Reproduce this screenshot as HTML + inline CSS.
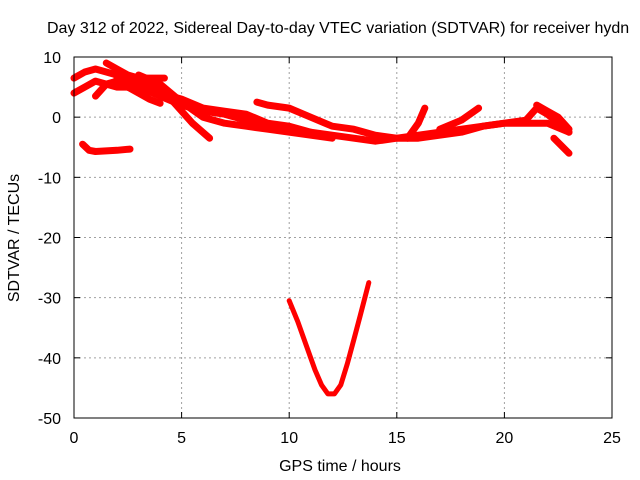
<!DOCTYPE html>
<html><head><meta charset="utf-8"><style>
html,body{margin:0;padding:0;background:#fff}
svg{display:block;font-family:"Liberation Sans",sans-serif}
</style></head><body>
<svg id="chart" width="640" height="480">
<rect width="640" height="480" fill="#fff"/>
<text x="47" y="33" font-size="16">Day 312 of 2022, Sidereal Day-to-day VTEC variation (SDTVAR) for receiver hydn</text>
<g id="grid"></g>
<g id="series"></g>
<rect x="74" y="57" width="538" height="361" fill="none" stroke="#000" stroke-width="1"/>
<g id="ticks"></g>
<text x="340" y="471" font-size="16" text-anchor="middle">GPS time / hours</text>
<text transform="translate(19,238) rotate(-90)" font-size="16" text-anchor="middle">SDTVAR / TECUs</text>
</svg>
<script>
const xTicks=[0,5,10,15,20,25];
const yTicks=[10,0,-10,-20,-30,-40,-50];
const s1h=[0,0.5,1,1.5,2.5,3.5,4.5,5.5,6.3];
const s1v=[6.5,7.5,8,7.5,6.5,5.5,3,-1,-3.5];
const s2h=[0,0.5,1,1.5,2,3,4,5,6,7,8,9,10,11,12,13,14,15,16,17,18,19,20,21,21.5,22,22.5,23];
const s2v=[4,5,6,5.5,5,5,3.5,2,1,0.5,-0.5,-1.5,-2,-2.5,-3,-3.5,-4,-3.5,-3,-2.5,-2,-1.5,-1,-0.5,1.5,0.5,-1,-2.5];
const s3h=[1.5,2,2.5,3,4.2];
const s3v=[9,8,7,6.5,6.5];
const s4h=[2,3,4,5,6,7,8,9,10,11];
const s4v=[6.5,5,4,3,1.5,1,0.5,-1,-1.5,-2.5];
const s5h=[1,1.5,2,3,3.5,4];
const s5v=[3.5,5.5,6,4,3,2.3];
const s6h=[3,4,5,6,7,8,9,10,11,12];
const s6v=[7,5.5,2.5,0,-1,-1.5,-2,-2.5,-3,-3.5];
const s7h=[8.5,9,10,11,12,13,14,15,16,17,18,19,20,21,22,23];
const s7v=[2.5,2,1.5,0,-1.5,-2,-3,-3.5,-3.5,-3,-2.5,-1.5,-1,-1,-1,-2.5];
const s8h=[15.5,16,16.3];
const s8v=[-3.5,-1,1.5];
const s9h=[17,18,18.8];
const s9v=[-2,-0.5,1.5];
const s10h=[21.5,22,22.5,23];
const s10v=[2,1,0,-2];
const s11h=[22.3,23];
const s11v=[-3.5,-6];
const s12h=[0.4,0.7,1,2,2.6];
const s12v=[-4.5,-5.5,-5.7,-5.5,-5.3];
const s13h=[10,10.4,10.8,11.2,11.5,11.8,12.1,12.4,12.7,13,13.3,13.7];
const s13v=[-30.5,-34,-38,-42,-44.5,-46,-46,-44.5,-41,-37,-33,-27.5];
const allH=[s1h,s2h,s3h,s4h,s5h,s6h,s7h,s8h,s9h,s10h,s11h,s12h,s13h];
const allV=[s1v,s2v,s3v,s4v,s5v,s6v,s7v,s8v,s9v,s10v,s11v,s12v,s13v];
const X=h=>74+h*(538/25);
const Y=v=>57+(10-v)*(361/60);
const NS="http://www.w3.org/2000/svg";
const grid=document.getElementById('grid'),ticks=document.getElementById('ticks'),ser=document.getElementById('series');
function mk(tag,attrs,parent){const e=document.createElementNS(NS,tag);for(const k in attrs)e.setAttribute(k,attrs[k]);parent.appendChild(e);return e;}
xTicks.forEach(t=>{
  const x=X(t);
  if(t>0&&t<25){const g=mk('line',{x1:x,x2:x,y1:57,y2:418,stroke:'#a0a0a0','stroke-dasharray':'2,3'},grid);
  
  }
  mk('line',{x1:x,x2:x,y1:418,y2:412,stroke:'#000'},ticks);
  mk('line',{x1:x,x2:x,y1:57,y2:63,stroke:'#000'},ticks);
  const tx=mk('text',{x:x,y:443,'font-size':16,'text-anchor':'middle'},ticks);
  tx.textContent=t;
  
  
});
yTicks.forEach(t=>{
  const y=Y(t);
  if(t<10&&t>-50){const g=mk('line',{x1:74,x2:612,y1:y,y2:y,stroke:'#a0a0a0','stroke-dasharray':'2,3'},grid);
  
  }
  mk('line',{x1:74,x2:80,y1:y,y2:y,stroke:'#000'},ticks);
  mk('line',{x1:612,x2:606,y1:y,y2:y,stroke:'#000'},ticks);
  const tx=mk('text',{x:61,y:y+6,'font-size':16,'text-anchor':'end'},ticks);
  tx.textContent=t;
  
  
});
allH.forEach((hs,i)=>{
  const pts=hs.map((h,j)=>X(h).toFixed(1)+','+Y(allV[i][j]).toFixed(1)).join(' ');
  const p=mk('polyline',{points:pts,fill:'none',stroke:'#f00','stroke-width':i===12?5:7,'stroke-linejoin':'round','stroke-linecap':'round'},ser);
  
  
});
</script>
</body></html>
